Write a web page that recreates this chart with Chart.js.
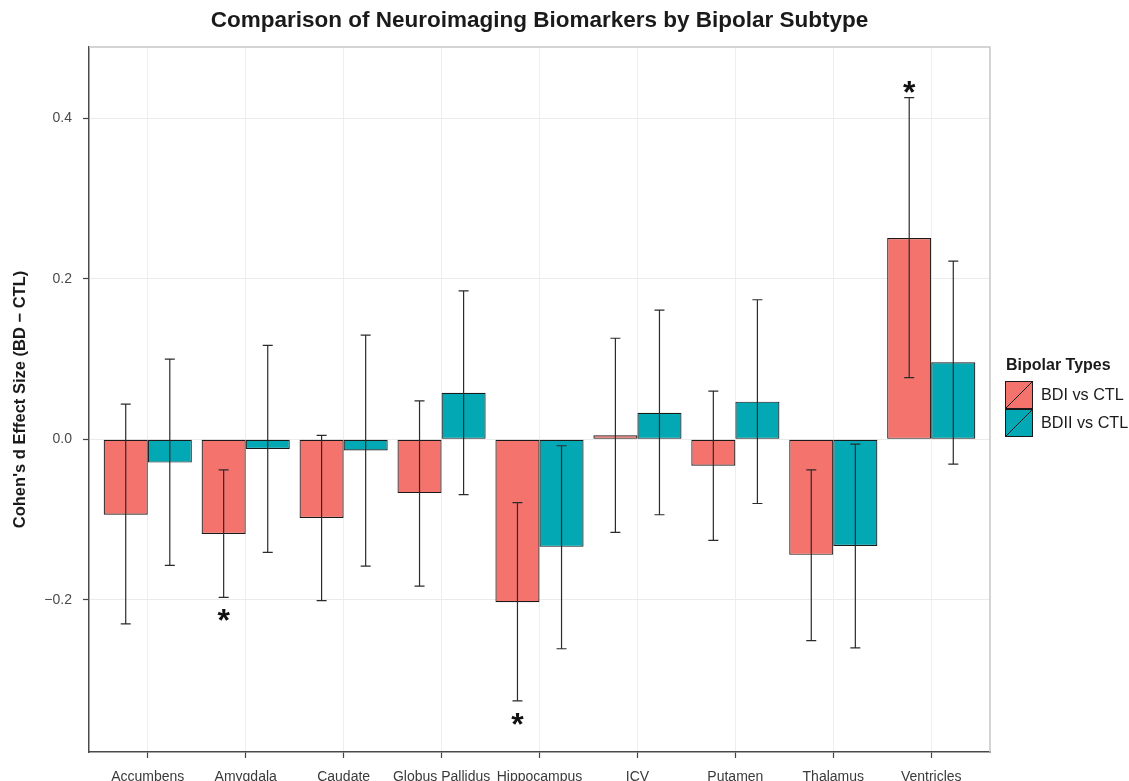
<!DOCTYPE html>
<html>
<head>
<meta charset="utf-8">
<script src="https://cdn.jsdelivr.net/npm/chart.js@4.4.1/dist/chart.umd.min.js"></script>
<style>
  html, body { margin: 0; padding: 0; background: #ffffff; }
  #wrap { width: 1129px; height: 781px; }
</style>
</head>
<body>
<div id="wrap"><canvas id="c" width="1129" height="781"></canvas></div>
<script>
// ---- data ----
const categories = ['Accumbens', 'Amygdala', 'Caudate', 'Globus Pallidus', 'Hippocampus', 'ICV', 'Putamen', 'Thalamus', 'Ventricles'];
const seriesNames = ['BDI vs CTL', 'BDII vs CTL'];
const bdiValues  = [-0.094, -0.118, -0.098, -0.067, -0.203, 0.005, -0.033, -0.144, 0.251];
const bdiLower   = [-0.230, -0.197, -0.201, -0.183, -0.326, -0.116, -0.126, -0.251, 0.077];
const bdiUpper   = [0.044, -0.038, 0.005, 0.048, -0.079, 0.126, 0.060, -0.038, 0.426];
const bdiiValues = [-0.029, -0.012, -0.014, 0.058, -0.134, 0.033, 0.047, -0.133, 0.096];
const bdiiLower  = [-0.157, -0.141, -0.158, -0.069, -0.261, -0.094, -0.080, -0.260, -0.031];
const bdiiUpper  = [0.100, 0.117, 0.130, 0.185, -0.008, 0.161, 0.174, -0.006, 0.222];
const yTickValues = [-0.2, 0.0, 0.2, 0.4];
const significant = [ { category: 'Amygdala', series: 0 }, { category: 'Hippocampus', series: 0 }, { category: 'Ventricles', series: 0 } ];
const legendTitle = 'Bipolar Types';
const chartTitle = 'Comparison of Neuroimaging Biomarkers by Bipolar Subtype';
const yAxisTitle = "Cohen's d Effect Size (BD \u2212 CTL)";

// ---- styles ----
const FONT = "'Liberation Sans', Arial, Helvetica, sans-serif";
const colors = ['#F4736D', '#02A8B3'];
const outline = '#1a1a1a';
const lowers = [bdiLower, bdiiLower];
const uppers = [bdiUpper, bdiiUpper];

Chart.defaults.font.family = FONT;

const toXY = arr => arr.map((v, i) => ({ x: i + 1, y: v }));

const errorBarPlugin = {
  id: 'errorBars',
  afterDatasetsDraw(chart) {
    const ctx = chart.ctx;
    const y = chart.scales.y;
    ctx.save();
    ctx.strokeStyle = '#2b2b2b';
    ctx.lineWidth = 1.2;
    chart.data.datasets.forEach((ds, di) => {
      const meta = chart.getDatasetMeta(di);
      meta.data.forEach((bar, j) => {
        const x = bar.x;
        const yl = y.getPixelForValue(lowers[di][j]);
        const yu = y.getPixelForValue(uppers[di][j]);
        ctx.beginPath();
        ctx.moveTo(x, yu); ctx.lineTo(x, yl);
        ctx.moveTo(x - 5, yu); ctx.lineTo(x + 5, yu);
        ctx.moveTo(x - 5, yl); ctx.lineTo(x + 5, yl);
        ctx.stroke();
      });
    });
    // significance stars
    ctx.fillStyle = '#111111';
    ctx.font = 'bold 32px ' + FONT;
    ctx.textAlign = 'center';
    ctx.textBaseline = 'alphabetic';
    significant.forEach(s => {
      const j = categories.indexOf(s.category);
      const di = s.series;
      const bar = chart.getDatasetMeta(di).data[j];
      const val = chart.data.datasets[di].data[j].y;
      let cy;
      if (val >= 0) cy = y.getPixelForValue(uppers[di][j]) - 13;
      else cy = y.getPixelForValue(lowers[di][j]) + 15.5;
      ctx.fillText('*', bar.x, cy + 18.5);
    });
    ctx.restore();
  },
  beforeDatasetsDraw(chart) {
    const { ctx, chartArea: a } = chart;
    ctx.save();
    ctx.strokeStyle = '#c6c6c6';
    ctx.lineWidth = 1.5;
    ctx.beginPath();
    ctx.moveTo(a.left, a.top); ctx.lineTo(a.right, a.top); ctx.lineTo(a.right, a.bottom);
    ctx.stroke();
    ctx.restore();
  },
  afterDraw(chart) {
    const ctx = chart.ctx;
    ctx.save();
    ctx.fillStyle = '#1a1a1a';
    ctx.font = 'bold 16px ' + FONT;
    ctx.textAlign = 'left';
    ctx.textBaseline = 'middle';
    ctx.fillText(legendTitle, 1006, 366);
    const bx = 1005, bw = 28, bh = 28, by0 = 381;
    chart.data.datasets.forEach((ds, i) => {
      const by = by0 + i * bh;
      ctx.fillStyle = ds.backgroundColor;
      ctx.fillRect(bx, by, bw, bh);
      ctx.strokeStyle = outline;
      ctx.lineWidth = 1;
      ctx.strokeRect(bx + 0.5, by + 0.5, bw - 1, bh - 1);
      ctx.beginPath();
      ctx.moveTo(bx + 1, by + bh - 1);
      ctx.lineTo(bx + bw - 1, by + 1);
      ctx.stroke();
      ctx.fillStyle = '#1a1a1a';
      ctx.font = '16.2px ' + FONT;
      ctx.fillText(ds.label, 1041, by + bh / 2 + 0.5);
    });
    ctx.restore();
  }
};

new Chart(document.getElementById('c'), {
  type: 'bar',
  data: {
    datasets: [
      { label: seriesNames[0], data: toXY(bdiValues), backgroundColor: colors[0], borderColor: outline, borderWidth: 1.2, borderSkipped: false },
      { label: seriesNames[1], data: toXY(bdiiValues), backgroundColor: colors[1], borderColor: outline, borderWidth: 1.2, borderSkipped: false }
    ]
  },
  options: {
    responsive: false,
    animation: false,
    devicePixelRatio: 1,
    categoryPercentage: 0.9,
    barPercentage: 1.0,
    layout: { padding: { left: 0, right: 139, top: 0, bottom: 0 } },
    plugins: {
      legend: { display: false },
      tooltip: { enabled: false },
      title: {
        display: true,
        text: chartTitle,
        fullSize: false,
        color: '#1a1a1a',
        font: { size: 22.5, weight: 'bold', family: FONT, lineHeight: 1.2 },
        padding: { top: 7, bottom: 13 }
      }
    },
    scales: {
      x: {
        type: 'linear',
        min: 0.4,
        max: 9.6,
        offset: false,
        afterBuildTicks: s => { s.ticks = categories.map((c, i) => ({ value: i + 1 })); },
        afterFit: s => { s.height = 29; },
        grid: { offset: false, color: '#eeeeee', lineWidth: 1, drawTicks: true, tickLength: 6, tickColor: '#444444', tickWidth: 1.2 },
        border: { color: '#4a4a4a', width: 1.5 },
        ticks: {
          autoSkip: false, maxRotation: 0, minRotation: 0, padding: 11,
          color: '#3a3a3a', font: { size: 14 },
          callback: (v, i) => categories[i]
        }
      },
      y: {
        min: -0.3897,
        max: 0.489,
        afterBuildTicks: s => { s.ticks = yTickValues.map(v => ({ value: v })); },
        afterFit: s => { s.width = 89; },
        grid: { color: '#ebebeb', lineWidth: 1, drawTicks: true, tickLength: 6, tickColor: '#444444', tickWidth: 1.2 },
        border: { color: '#4a4a4a', width: 1.5 },
        ticks: {
          padding: 11, color: '#4a4a4a', font: { size: 14 },
          callback: v => (v < 0 ? '\u2212' : '') + Math.abs(v).toFixed(1)
        },
        title: {
          display: true, text: yAxisTitle, color: '#1a1a1a',
          font: { size: 16.5, weight: 'bold' }, padding: { top: 10.5, bottom: 0 }
        }
      }
    }
  },
  plugins: [errorBarPlugin]
});
</script>
</body>
</html>
